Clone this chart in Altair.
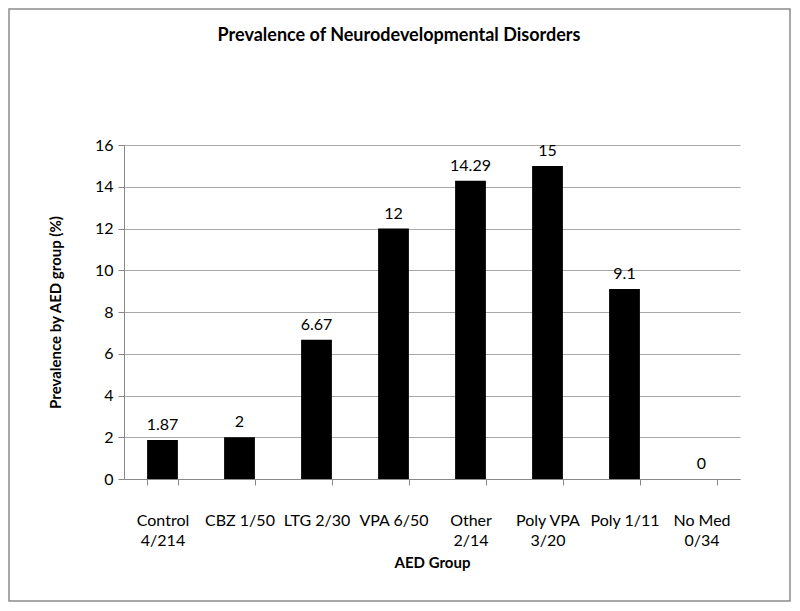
import altair as alt
import pandas as pd

groups = ["Control|4/214", "CBZ 1/50", "LTG 2/30", "VPA 6/50", "Other|2/14",
          "Poly VPA|3/20", "Poly 1/11", "No Med|0/34"]
values = [1.87, 2, 6.67, 12, 14.29, 15, 9.1, 0]
labels = ["1.87", "2", "6.67", "12", "14.29", "15", "9.1", "0"]

df = pd.DataFrame({"group": groups, "value": values, "label": labels})

FONT = "Lato"

x_enc = alt.X("group:N", sort=groups, title="AED Group",
              scale=alt.Scale(paddingInner=0.6, paddingOuter=0.3),
              axis=alt.Axis(labelExpr="split(datum.label, '|')", labelAngle=0,
                            labelFontSize=16, labelColor="#000", labelFont=FONT,
                            labelPadding=27, labelLineHeight=20,
                            tickBand="extent", tickSize=6, tickColor="#888",
                            domainColor="#888", titleFontSize=15, titleFont=FONT,
                            titleFontWeight="bold", titleColor="#000",
                            titlePadding=7, grid=False))

y_enc = alt.Y("value:Q", title="Prevalence by AED group (%)",
              scale=alt.Scale(domain=[0, 16]),
              axis=alt.Axis(values=[0, 2, 4, 6, 8, 10, 12, 14, 16], tickSize=6,
                            tickColor="#888", domainColor="#888", gridColor="#a8a8a8",
                            labelFontSize=16, labelColor="#000", labelFont=FONT,
                            labelPadding=5, titleFontSize=15, titleFont=FONT,
                            titleFontWeight="bold", titleColor="#000", titlePadding=31))

bars = alt.Chart(df).mark_bar(color="#000").encode(x=x_enc, y=y_enc)

text = alt.Chart(df).mark_text(baseline="bottom", dy=-7, fontSize=16, font=FONT,
                               color="#000").encode(
    x=alt.X("group:N", sort=groups), y="value:Q", text="label:N")

frame = alt.Chart(pd.DataFrame({"a": [0]})).mark_rect(
    fill=None, stroke="#8c8c8c", strokeWidth=1.5).encode(
    x=alt.value(-115), x2=alt.value(666), y=alt.value(-136), y2=alt.value(456))

chart = alt.layer(frame, bars, text).properties(
    width=616, height=334,
    title=alt.TitleParams("Prevalence of Neurodevelopmental Disorders", fontSize=18,
                          font=FONT, fontWeight="bold", color="#000", offset=-37,
                          dx=-33),
    autosize=alt.AutoSizeParams(type="none"),
    padding={"left": 116, "top": 137, "right": 52, "bottom": 124},
).configure_view(stroke=None)

chart.save("out.html", embed_options={"renderer": "svg", "actions": False})
